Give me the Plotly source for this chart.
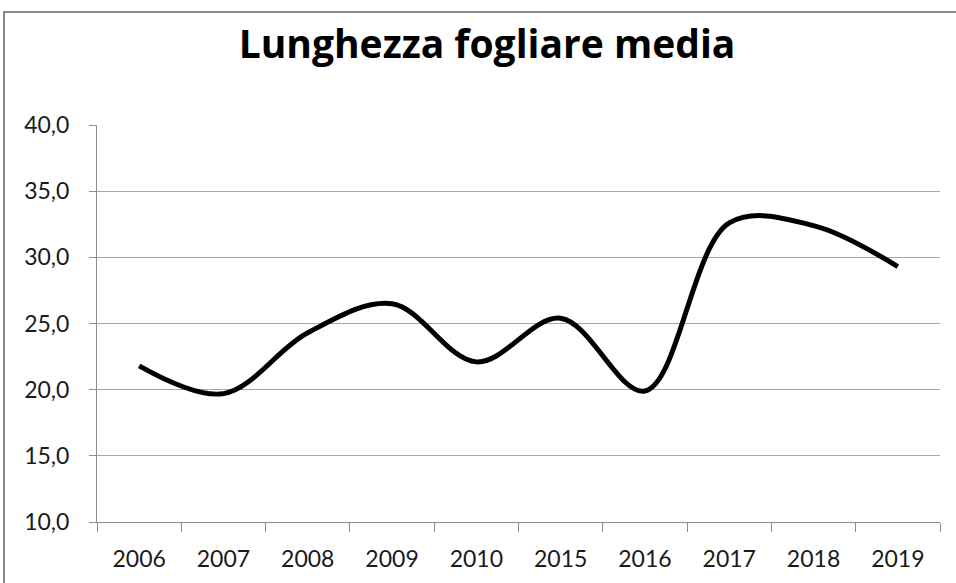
import plotly.graph_objects as go

years = ["2006", "2007", "2008", "2009", "2010", "2015", "2016", "2017", "2018", "2019"]
lunghezza = [21.8, 19.7, 24.3, 26.5, 22.1, 25.4, 19.9, 32.6, 32.4, 29.3]
y_ticks = [10, 15, 20, 25, 30, 35, 40]
y_labels = ["10,0", "15,0", "20,0", "25,0", "30,0", "35,0", "40,0"]

fig = go.Figure()
fig.add_trace(go.Scatter(
    x=years, y=lunghezza, mode="lines",
    line=dict(color="black", width=5, shape="spline", smoothing=1.0),
    showlegend=False, hoverinfo="x+y",
))

fig.update_layout(
    width=956, height=583,
    margin=dict(l=97, r=16, t=125, b=61),
    paper_bgcolor="white", plot_bgcolor="white",
    title=dict(text="<b>Lunghezza fogliare media</b>", x=487/956, xanchor="center",
               y=1 - 44/583, yanchor="middle", yref="container",
               font=dict(family="Open Sans", size=39, color="black")),
    font=dict(family="Lato", size=23, color="#1a1a1a"),
)
fig.update_xaxes(
    type="category", tickson="boundaries", ticks="outside", ticklen=9, tickcolor="#8c8c8c",
    showline=True, linecolor="#8c8c8c", linewidth=1, showgrid=False,
    tickfont=dict(family="Lato", size=23, color="#1a1a1a"),
    range=[-0.5, 9.5], fixedrange=True, ticklabelstandoff=16,
)
fig.update_yaxes(
    range=[10, 40], tickvals=y_ticks, ticktext=y_labels,
    ticks="outside", ticklen=7, tickcolor="#8c8c8c",
    showline=True, linecolor="#8c8c8c", linewidth=1,
    showgrid=True, gridcolor="#a6a6a6", gridwidth=1, zeroline=False,
    tickfont=dict(family="Lato", size=23, color="#1a1a1a"),
    ticklabelstandoff=15,
)
fig.add_shape(type="rect", xref="paper", yref="paper",
              x0=(4 - 97) / 843, x1=1.2, y0=-0.3, y1=(522 - 12) / 397,
              line=dict(color="#8a8a8a", width=2), fillcolor="rgba(0,0,0,0)", layer="below")

fig.write_html("out.html", config={"displayModeBar": False},
               post_script="document.body.style.margin='0';document.body.style.overflow='hidden';")
